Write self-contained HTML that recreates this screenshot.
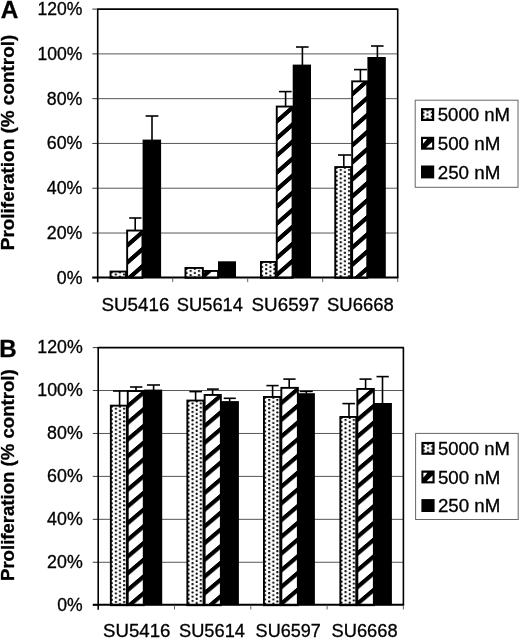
<!DOCTYPE html>
<html lang="en"><head><meta charset="utf-8"><title>Proliferation (% control)</title>
<style>html,body{margin:0;padding:0;background:#fff}svg{display:block}text{font-family:'Liberation Sans', sans-serif;fill:#000;stroke:#000;stroke-width:0.3px}</style>
</head><body>
<svg width="520" height="640" viewBox="0 0 520 640">
<defs>
<pattern id="d1" patternUnits="userSpaceOnUse" x="113.72" y="273.44" width="8.3" height="4.25"><rect width="8.3" height="4.25" fill="#fff"/><circle cx="2.08" cy="1.06" r="1.12" fill="#000"/><circle cx="6.23" cy="3.19" r="1.12" fill="#000"/></pattern>
<pattern id="h2" patternUnits="userSpaceOnUse" width="10" height="17.05" patternTransform="translate(135.2,235.65) skewY(-41.35)"><rect width="10" height="17.05" fill="#fff"/><rect width="10" height="5.7" fill="#000"/></pattern>
<pattern id="d3" patternUnits="userSpaceOnUse" x="188.62" y="269.84" width="8.3" height="4.25"><rect width="8.3" height="4.25" fill="#fff"/><circle cx="2.08" cy="1.06" r="1.12" fill="#000"/><circle cx="6.23" cy="3.19" r="1.12" fill="#000"/></pattern>
<pattern id="h4" patternUnits="userSpaceOnUse" width="10" height="17.05" patternTransform="translate(207,270.15) skewY(-41.35)"><rect width="10" height="17.05" fill="#fff"/><rect width="10" height="5.7" fill="#000"/></pattern>
<pattern id="d5" patternUnits="userSpaceOnUse" x="264.12" y="263.84" width="8.3" height="4.25"><rect width="8.3" height="4.25" fill="#fff"/><circle cx="2.08" cy="1.06" r="1.12" fill="#000"/><circle cx="6.23" cy="3.19" r="1.12" fill="#000"/></pattern>
<pattern id="h6" patternUnits="userSpaceOnUse" width="10" height="17.05" patternTransform="translate(284.5,111.75) skewY(-41.35)"><rect width="10" height="17.05" fill="#fff"/><rect width="10" height="5.7" fill="#000"/></pattern>
<pattern id="d7" patternUnits="userSpaceOnUse" x="338.68" y="168.84" width="8.3" height="4.25"><rect width="8.3" height="4.25" fill="#fff"/><circle cx="2.08" cy="1.06" r="1.12" fill="#000"/><circle cx="6.23" cy="3.19" r="1.12" fill="#000"/></pattern>
<pattern id="h8" patternUnits="userSpaceOnUse" width="10" height="17.05" patternTransform="translate(359.7,84.75) skewY(-41.35)"><rect width="10" height="17.05" fill="#fff"/><rect width="10" height="5.7" fill="#000"/></pattern>
<pattern id="d9" patternUnits="userSpaceOnUse" x="425.5" y="113.55" width="8.4" height="4"><rect width="8.4" height="4" fill="#fff"/><circle cx="2.1" cy="1" r="1.1" fill="#000"/><circle cx="6.3" cy="3" r="1.1" fill="#000"/></pattern>
<pattern id="d10" patternUnits="userSpaceOnUse" x="113.85" y="407.7" width="8.2" height="4.2"><rect width="8.2" height="4.2" fill="#fff"/><circle cx="2.05" cy="1.05" r="1.12" fill="#000"/><circle cx="6.15" cy="3.15" r="1.12" fill="#000"/></pattern>
<pattern id="h11" patternUnits="userSpaceOnUse" width="10" height="16.72" patternTransform="translate(135.5,396.75) skewY(-40.36)"><rect width="10" height="16.72" fill="#fff"/><rect width="10" height="5.5" fill="#000"/></pattern>
<pattern id="d12" patternUnits="userSpaceOnUse" x="190.55" y="402.45" width="8.2" height="4.2"><rect width="8.2" height="4.2" fill="#fff"/><circle cx="2.05" cy="1.05" r="1.12" fill="#000"/><circle cx="6.15" cy="3.15" r="1.12" fill="#000"/></pattern>
<pattern id="h13" patternUnits="userSpaceOnUse" width="10" height="16.72" patternTransform="translate(212.6,399.85) skewY(-40.36)"><rect width="10" height="16.72" fill="#fff"/><rect width="10" height="5.5" fill="#000"/></pattern>
<pattern id="d14" patternUnits="userSpaceOnUse" x="267.15" y="398.85" width="8.2" height="4.2"><rect width="8.2" height="4.2" fill="#fff"/><circle cx="2.05" cy="1.05" r="1.12" fill="#000"/><circle cx="6.15" cy="3.15" r="1.12" fill="#000"/></pattern>
<pattern id="h15" patternUnits="userSpaceOnUse" width="10" height="16.72" patternTransform="translate(289.2,393.65) skewY(-40.36)"><rect width="10" height="16.72" fill="#fff"/><rect width="10" height="5.5" fill="#000"/></pattern>
<pattern id="d16" patternUnits="userSpaceOnUse" x="343.55" y="418.85" width="8.2" height="4.2"><rect width="8.2" height="4.2" fill="#fff"/><circle cx="2.05" cy="1.05" r="1.12" fill="#000"/><circle cx="6.15" cy="3.15" r="1.12" fill="#000"/></pattern>
<pattern id="h17" patternUnits="userSpaceOnUse" width="10" height="16.72" patternTransform="translate(365.6,393.45) skewY(-40.36)"><rect width="10" height="16.72" fill="#fff"/><rect width="10" height="5.5" fill="#000"/></pattern>
<pattern id="d18" patternUnits="userSpaceOnUse" x="425.9" y="447.35" width="8.4" height="4"><rect width="8.4" height="4" fill="#fff"/><circle cx="2.1" cy="1" r="1.1" fill="#000"/><circle cx="6.3" cy="3" r="1.1" fill="#000"/></pattern>
</defs>
<rect width="520" height="640" fill="#fff"/>
<line x1="97.7" y1="53.88" x2="397.7" y2="53.88" stroke="#444" stroke-width="0.9"/>
<line x1="97.7" y1="98.67" x2="397.7" y2="98.67" stroke="#444" stroke-width="0.9"/>
<line x1="97.7" y1="143.45" x2="397.7" y2="143.45" stroke="#444" stroke-width="0.9"/>
<line x1="97.7" y1="188.23" x2="397.7" y2="188.23" stroke="#444" stroke-width="0.9"/>
<line x1="97.7" y1="233.02" x2="397.7" y2="233.02" stroke="#444" stroke-width="0.9"/>
<line x1="92.3" y1="9.1" x2="97.7" y2="9.1" stroke="#222" stroke-width="0.9"/>
<text x="37.5" y="15.1" font-size="17.5" textLength="44.9" lengthAdjust="spacingAndGlyphs">120%</text>
<line x1="92.3" y1="53.88" x2="97.7" y2="53.88" stroke="#222" stroke-width="0.9"/>
<text x="37.5" y="59.88" font-size="17.5" textLength="44.9" lengthAdjust="spacingAndGlyphs">100%</text>
<line x1="92.3" y1="98.67" x2="97.7" y2="98.67" stroke="#222" stroke-width="0.9"/>
<text x="46.8" y="104.67" font-size="17.5" textLength="35.6" lengthAdjust="spacingAndGlyphs">80%</text>
<line x1="92.3" y1="143.45" x2="97.7" y2="143.45" stroke="#222" stroke-width="0.9"/>
<text x="46.8" y="149.45" font-size="17.5" textLength="35.6" lengthAdjust="spacingAndGlyphs">60%</text>
<line x1="92.3" y1="188.23" x2="97.7" y2="188.23" stroke="#222" stroke-width="0.9"/>
<text x="46.8" y="194.23" font-size="17.5" textLength="35.6" lengthAdjust="spacingAndGlyphs">40%</text>
<line x1="92.3" y1="233.02" x2="97.7" y2="233.02" stroke="#222" stroke-width="0.9"/>
<text x="46.8" y="239.02" font-size="17.5" textLength="35.6" lengthAdjust="spacingAndGlyphs">20%</text>
<line x1="92.3" y1="277.8" x2="97.7" y2="277.8" stroke="#222" stroke-width="0.9"/>
<text x="56.8" y="283.8" font-size="17.5" textLength="25.6" lengthAdjust="spacingAndGlyphs">0%</text>
<rect x="110.55" y="271.55" width="15.5" height="6.25" fill="url(#d1)" stroke="#000" stroke-width="1.9"/>
<rect x="127.15" y="230.55" width="15.3" height="47.25" fill="url(#h2)" stroke="#000" stroke-width="1.9"/>
<line x1="135.2" y1="218" x2="135.2" y2="230.1" stroke="#000" stroke-width="1.6"/>
<line x1="129.2" y1="218" x2="141.5" y2="218" stroke="#000" stroke-width="1.6"/>
<rect x="142.6" y="139.6" width="18.5" height="138.2" fill="#000"/>
<line x1="152" y1="116" x2="152" y2="140.1" stroke="#000" stroke-width="1.6"/>
<line x1="145.6" y1="116" x2="158.4" y2="116" stroke="#000" stroke-width="1.6"/>
<rect x="185.45" y="267.95" width="17.4" height="9.85" fill="url(#d3)" stroke="#000" stroke-width="1.9"/>
<rect x="203.55" y="270.95" width="14.5" height="6.85" fill="url(#h4)" stroke="#000" stroke-width="1.9"/>
<rect x="218" y="261.3" width="18" height="16.5" fill="#000"/>
<rect x="260.95" y="261.95" width="14.7" height="15.85" fill="url(#d5)" stroke="#000" stroke-width="1.9"/>
<rect x="276.75" y="106.55" width="15.8" height="171.25" fill="url(#h6)" stroke="#000" stroke-width="1.9"/>
<line x1="285.6" y1="91.6" x2="285.6" y2="106.1" stroke="#000" stroke-width="1.6"/>
<line x1="279" y1="91.6" x2="291.6" y2="91.6" stroke="#000" stroke-width="1.6"/>
<rect x="292.7" y="64.6" width="18.3" height="213.2" fill="#000"/>
<line x1="302.4" y1="47" x2="302.4" y2="65.1" stroke="#000" stroke-width="1.6"/>
<line x1="296" y1="47" x2="308.6" y2="47" stroke="#000" stroke-width="1.6"/>
<rect x="335.25" y="167.05" width="15.8" height="110.75" fill="url(#d7)" stroke="#000" stroke-width="1.9"/>
<line x1="343.8" y1="155" x2="343.8" y2="166.6" stroke="#000" stroke-width="1.6"/>
<line x1="338" y1="155" x2="351" y2="155" stroke="#000" stroke-width="1.6"/>
<rect x="352.15" y="81.35" width="15.1" height="196.45" fill="url(#h8)" stroke="#000" stroke-width="1.9"/>
<line x1="360.4" y1="69.6" x2="360.4" y2="80.9" stroke="#000" stroke-width="1.6"/>
<line x1="354" y1="69.6" x2="367" y2="69.6" stroke="#000" stroke-width="1.6"/>
<rect x="367.4" y="57" width="18.4" height="220.8" fill="#000"/>
<line x1="377.4" y1="46" x2="377.4" y2="57.5" stroke="#000" stroke-width="1.6"/>
<line x1="371" y1="46" x2="383.6" y2="46" stroke="#000" stroke-width="1.6"/>
<line x1="97.1" y1="9.1" x2="398.2" y2="9.1" stroke="#000" stroke-width="1.6"/>
<line x1="397.7" y1="9.1" x2="397.7" y2="277.8" stroke="#000" stroke-width="1.6"/>
<line x1="97.7" y1="9.1" x2="97.7" y2="282.3" stroke="#000" stroke-width="1.6"/>
<line x1="92.3" y1="277.4" x2="398.4" y2="277.4" stroke="#000" stroke-width="2"/>
<line x1="172.7" y1="277.8" x2="172.7" y2="282.1" stroke="#555" stroke-width="0.9"/>
<line x1="247.7" y1="277.8" x2="247.7" y2="282.1" stroke="#555" stroke-width="0.9"/>
<line x1="322.7" y1="277.8" x2="322.7" y2="282.1" stroke="#555" stroke-width="0.9"/>
<line x1="397.7" y1="277.8" x2="397.7" y2="282.1" stroke="#555" stroke-width="0.9"/>
<text x="101.5" y="310.6" font-size="17.5" textLength="67.9" lengthAdjust="spacingAndGlyphs">SU5416</text>
<text x="176.8" y="310.6" font-size="17.5" textLength="66.2" lengthAdjust="spacingAndGlyphs">SU5614</text>
<text x="251.6" y="310.6" font-size="17.5" textLength="67.9" lengthAdjust="spacingAndGlyphs">SU6597</text>
<text x="327" y="310.6" font-size="17.5" textLength="66.8" lengthAdjust="spacingAndGlyphs">SU6668</text>
<text x="0.7" y="18.4" font-size="24" font-weight="bold" textLength="17.6" lengthAdjust="spacingAndGlyphs">A</text>
<text transform="translate(13.9,250.2) rotate(-90)" font-size="18" font-weight="bold" stroke="none" textLength="215.5" lengthAdjust="spacingAndGlyphs">Proliferation (% control)</text>
<rect x="415.2" y="100.2" width="102.8" height="87.1" fill="#fff" stroke="#666" stroke-width="1"/>
<rect x="422.1" y="109.2" width="11" height="10.7" fill="url(#d9)" stroke="#000" stroke-width="2.2"/>
<text x="437.7" y="121.3" font-size="17.8" textLength="72.4" lengthAdjust="spacingAndGlyphs">5000 nM</text>
<rect x="421" y="136.8" width="13.2" height="12.9" fill="#000"/>
<polygon points="423,139.1 427,139.1 423,143.7" fill="#fff"/>
<polygon points="432.1,147.6 426.2,147.6 432.1,141.9" fill="#fff"/>
<text x="437.7" y="150" font-size="17.8" textLength="62.7" lengthAdjust="spacingAndGlyphs">500 nM</text>
<rect x="421" y="165.5" width="13.2" height="12.9" fill="#000"/>
<text x="437.7" y="178.7" font-size="17.8" textLength="62.7" lengthAdjust="spacingAndGlyphs">250 nM</text>
<line x1="98.2" y1="390.53" x2="403.4" y2="390.53" stroke="#444" stroke-width="0.9"/>
<line x1="98.2" y1="433.47" x2="403.4" y2="433.47" stroke="#444" stroke-width="0.9"/>
<line x1="98.2" y1="476.4" x2="403.4" y2="476.4" stroke="#444" stroke-width="0.9"/>
<line x1="98.2" y1="519.33" x2="403.4" y2="519.33" stroke="#444" stroke-width="0.9"/>
<line x1="98.2" y1="562.27" x2="403.4" y2="562.27" stroke="#444" stroke-width="0.9"/>
<line x1="92.8" y1="347.6" x2="98.2" y2="347.6" stroke="#222" stroke-width="0.9"/>
<text x="37.3" y="353.4" font-size="17.5" textLength="45.4" lengthAdjust="spacingAndGlyphs">120%</text>
<line x1="92.8" y1="390.53" x2="98.2" y2="390.53" stroke="#222" stroke-width="0.9"/>
<text x="37.3" y="396.33" font-size="17.5" textLength="45.4" lengthAdjust="spacingAndGlyphs">100%</text>
<line x1="92.8" y1="433.47" x2="98.2" y2="433.47" stroke="#222" stroke-width="0.9"/>
<text x="47.1" y="439.27" font-size="17.5" textLength="35.6" lengthAdjust="spacingAndGlyphs">80%</text>
<line x1="92.8" y1="476.4" x2="98.2" y2="476.4" stroke="#222" stroke-width="0.9"/>
<text x="47.1" y="482.2" font-size="17.5" textLength="35.6" lengthAdjust="spacingAndGlyphs">60%</text>
<line x1="92.8" y1="519.33" x2="98.2" y2="519.33" stroke="#222" stroke-width="0.9"/>
<text x="47.1" y="525.13" font-size="17.5" textLength="35.6" lengthAdjust="spacingAndGlyphs">40%</text>
<line x1="92.8" y1="562.27" x2="98.2" y2="562.27" stroke="#222" stroke-width="0.9"/>
<text x="47.1" y="568.07" font-size="17.5" textLength="35.6" lengthAdjust="spacingAndGlyphs">20%</text>
<line x1="92.8" y1="605.2" x2="98.2" y2="605.2" stroke="#222" stroke-width="0.9"/>
<text x="57.3" y="611" font-size="17.5" textLength="25.4" lengthAdjust="spacingAndGlyphs">0%</text>
<rect x="110.85" y="405.65" width="16" height="199.55" fill="url(#d10)" stroke="#000" stroke-width="1.9"/>
<line x1="119.6" y1="391" x2="119.6" y2="405.2" stroke="#000" stroke-width="1.6"/>
<line x1="113" y1="391" x2="127" y2="391" stroke="#000" stroke-width="1.6"/>
<rect x="127.75" y="391.05" width="16" height="214.15" fill="url(#h11)" stroke="#000" stroke-width="1.9"/>
<line x1="136" y1="387" x2="136" y2="390.6" stroke="#000" stroke-width="1.6"/>
<line x1="130" y1="387" x2="142.4" y2="387" stroke="#000" stroke-width="1.6"/>
<rect x="143.9" y="389.6" width="18.3" height="215.6" fill="#000"/>
<line x1="153.6" y1="385" x2="153.6" y2="390.1" stroke="#000" stroke-width="1.6"/>
<line x1="147" y1="385" x2="160" y2="385" stroke="#000" stroke-width="1.6"/>
<rect x="187.35" y="400.55" width="16.2" height="204.65" fill="url(#d12)" stroke="#000" stroke-width="1.9"/>
<line x1="195.6" y1="391.6" x2="195.6" y2="400.1" stroke="#000" stroke-width="1.6"/>
<line x1="189.4" y1="391.6" x2="202" y2="391.6" stroke="#000" stroke-width="1.6"/>
<rect x="204.65" y="394.95" width="16.2" height="210.25" fill="url(#h13)" stroke="#000" stroke-width="1.9"/>
<line x1="212.6" y1="389.1" x2="212.6" y2="394.5" stroke="#000" stroke-width="1.6"/>
<line x1="207" y1="389.1" x2="218.8" y2="389.1" stroke="#000" stroke-width="1.6"/>
<rect x="221" y="401.1" width="17.9" height="204.1" fill="#000"/>
<line x1="229.7" y1="398.3" x2="229.7" y2="401.6" stroke="#000" stroke-width="1.6"/>
<line x1="223.7" y1="398.3" x2="235.8" y2="398.3" stroke="#000" stroke-width="1.6"/>
<rect x="263.95" y="396.95" width="16.3" height="208.25" fill="url(#d14)" stroke="#000" stroke-width="1.9"/>
<line x1="272.6" y1="385.6" x2="272.6" y2="396.5" stroke="#000" stroke-width="1.6"/>
<line x1="266.4" y1="385.6" x2="278.6" y2="385.6" stroke="#000" stroke-width="1.6"/>
<rect x="281.35" y="387.85" width="16.5" height="217.35" fill="url(#h15)" stroke="#000" stroke-width="1.9"/>
<line x1="289.2" y1="379.1" x2="289.2" y2="387.4" stroke="#000" stroke-width="1.6"/>
<line x1="283.3" y1="379.1" x2="295.6" y2="379.1" stroke="#000" stroke-width="1.6"/>
<rect x="298" y="393.2" width="16.9" height="212" fill="#000"/>
<line x1="306.3" y1="391.4" x2="306.3" y2="393.7" stroke="#000" stroke-width="1.6"/>
<line x1="299.8" y1="391.4" x2="312.8" y2="391.4" stroke="#000" stroke-width="1.6"/>
<rect x="340.35" y="416.95" width="15.9" height="188.25" fill="url(#d16)" stroke="#000" stroke-width="1.9"/>
<line x1="349" y1="403.6" x2="349" y2="416.5" stroke="#000" stroke-width="1.6"/>
<line x1="342.4" y1="403.6" x2="355" y2="403.6" stroke="#000" stroke-width="1.6"/>
<rect x="357.35" y="388.95" width="16.5" height="216.25" fill="url(#h17)" stroke="#000" stroke-width="1.9"/>
<line x1="365.6" y1="379.1" x2="365.6" y2="388.5" stroke="#000" stroke-width="1.6"/>
<line x1="359.5" y1="379.1" x2="371.6" y2="379.1" stroke="#000" stroke-width="1.6"/>
<rect x="374" y="403" width="17.9" height="202.2" fill="#000"/>
<line x1="382.5" y1="376.6" x2="382.5" y2="403.5" stroke="#000" stroke-width="1.6"/>
<line x1="376.5" y1="376.6" x2="388.8" y2="376.6" stroke="#000" stroke-width="1.6"/>
<line x1="97.6" y1="347.6" x2="403.9" y2="347.6" stroke="#000" stroke-width="1.6"/>
<line x1="403.4" y1="347.6" x2="403.4" y2="605.2" stroke="#000" stroke-width="1.6"/>
<line x1="98.2" y1="347.6" x2="98.2" y2="609.7" stroke="#000" stroke-width="1.6"/>
<line x1="92.8" y1="604.8" x2="404.1" y2="604.8" stroke="#000" stroke-width="2"/>
<line x1="174.5" y1="605.2" x2="174.5" y2="609.5" stroke="#555" stroke-width="0.9"/>
<line x1="250.8" y1="605.2" x2="250.8" y2="609.5" stroke="#555" stroke-width="0.9"/>
<line x1="327.1" y1="605.2" x2="327.1" y2="609.5" stroke="#555" stroke-width="0.9"/>
<line x1="403.4" y1="605.2" x2="403.4" y2="609.5" stroke="#555" stroke-width="0.9"/>
<text x="103" y="636.8" font-size="17.5" textLength="67.4" lengthAdjust="spacingAndGlyphs">SU5416</text>
<text x="179" y="636.8" font-size="17.5" textLength="66" lengthAdjust="spacingAndGlyphs">SU5614</text>
<text x="255.6" y="636.8" font-size="17.5" textLength="65.2" lengthAdjust="spacingAndGlyphs">SU6597</text>
<text x="331.6" y="636.8" font-size="17.5" textLength="66" lengthAdjust="spacingAndGlyphs">SU6668</text>
<text x="-0.8" y="357" font-size="24" font-weight="bold" textLength="17.4" lengthAdjust="spacingAndGlyphs">B</text>
<text transform="translate(13.9,581) rotate(-90)" font-size="18" font-weight="bold" stroke="none" textLength="211.6" lengthAdjust="spacingAndGlyphs">Proliferation (% control)</text>
<rect x="415.6" y="433.4" width="102.6" height="86.1" fill="#fff" stroke="#666" stroke-width="1"/>
<rect x="422.5" y="443" width="11" height="10.7" fill="url(#d18)" stroke="#000" stroke-width="2.2"/>
<text x="437.9" y="455.1" font-size="17.8" textLength="72" lengthAdjust="spacingAndGlyphs">5000 nM</text>
<rect x="421.4" y="470.5" width="13.2" height="12.9" fill="#000"/>
<polygon points="423.4,472.8 427.4,472.8 423.4,477.4" fill="#fff"/>
<polygon points="432.5,481.3 426.6,481.3 432.5,475.6" fill="#fff"/>
<text x="437.9" y="483.7" font-size="17.8" textLength="62.3" lengthAdjust="spacingAndGlyphs">500 nM</text>
<rect x="421.4" y="499.1" width="13.2" height="12.9" fill="#000"/>
<text x="437.9" y="512.3" font-size="17.8" textLength="62.3" lengthAdjust="spacingAndGlyphs">250 nM</text>
</svg>
</body></html>
